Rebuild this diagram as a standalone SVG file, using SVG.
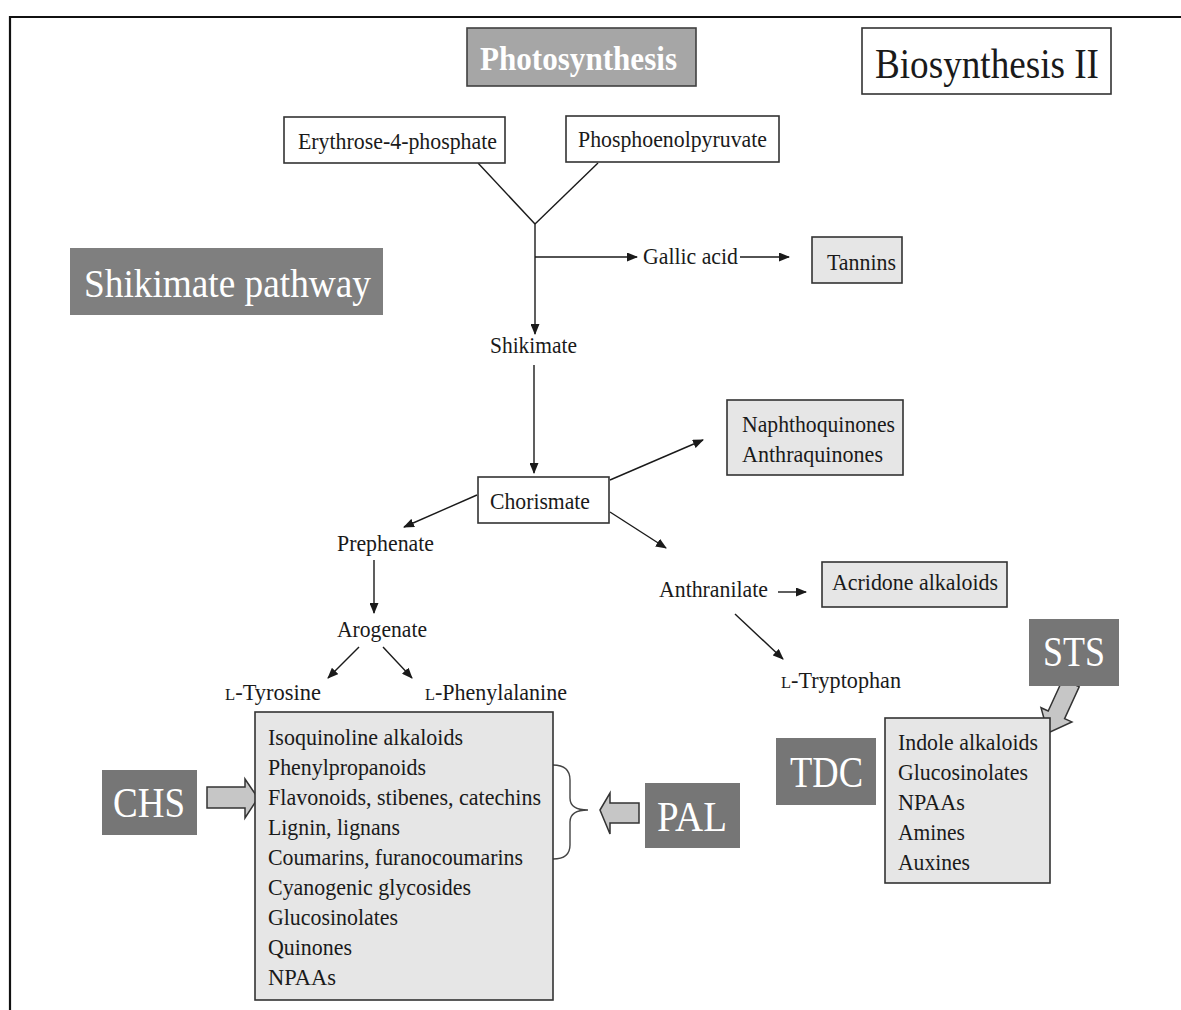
<svg xmlns="http://www.w3.org/2000/svg" width="1181" height="1010" viewBox="0 0 1181 1010">
<defs>
<marker id="ah" markerUnits="userSpaceOnUse" markerWidth="11" markerHeight="9" refX="10" refY="4.5" orient="auto">
<path d="M0,0 L11,4.5 L0,9 z" fill="#1a1a1a"/>
</marker>
<style>
text{font-family:"Liberation Serif","Times New Roman",serif;fill:#1a1a1a;}
.t{font-size:23px;}
.w{fill:#ffffff;}
.box{fill:#ffffff;stroke:#333333;stroke-width:1.6;}
.prod{fill:#e6e6e6;stroke:#333333;stroke-width:1.6;}
.dark{fill:#767676;}
.conn{stroke:#1a1a1a;stroke-width:1.4;fill:none;}
.arr{stroke:#1a1a1a;stroke-width:1.4;fill:none;marker-end:url(#ah);}
.blk{fill:#c6c6c6;stroke:#333333;stroke-width:1.5;stroke-linejoin:miter;}
.sc{font-size:17px;}
</style>
</defs>
<rect width="1181" height="1010" fill="#ffffff"/>
<g id="frame">
<line x1="9" y1="17" x2="1181" y2="17" stroke="#111" stroke-width="2"/>
<line x1="10" y1="16" x2="10" y2="1010" stroke="#111" stroke-width="2.2"/>
</g>
<g id="connectors">
<line class="conn" x1="478" y1="163" x2="535" y2="224"/>
<line class="conn" x1="598" y1="163" x2="535" y2="224"/>
<line class="arr" x1="535" y1="224" x2="535" y2="334"/>
<line class="arr" x1="535" y1="257" x2="637" y2="257"/>
<line class="arr" x1="740" y1="257" x2="789" y2="257"/>
<line class="arr" x1="534" y1="365" x2="534" y2="473"/>
<line class="arr" x1="610" y1="480" x2="703" y2="440"/>
<line class="arr" x1="477" y1="495" x2="404" y2="527"/>
<line class="arr" x1="610" y1="512" x2="666" y2="548"/>
<line class="arr" x1="374" y1="560" x2="374" y2="613"/>
<line class="arr" x1="359" y1="647" x2="328" y2="678"/>
<line class="arr" x1="383" y1="647" x2="412" y2="678"/>
<line class="arr" x1="778" y1="592" x2="806" y2="592"/>
<line class="arr" x1="735" y1="614" x2="783" y2="659"/>
<path id="brace" d="M553,765 Q570,765 570,780 L570,798 Q570,810 588,810 Q570,810 570,822 L570,845 Q570,859 553,859" fill="none" stroke="#444" stroke-width="1.4"/>
<polygon id="chs-arrow" class="blk" points="207,787 245,787 245,779 258,798 245,818 245,808 207,808"/>
<polygon id="pal-arrow" class="blk" points="600,810 610,793 610,803 639,803 639,823 610,823 610,834"/>
<polygon id="sts-arrow" class="blk" points="1062.8,679.2 1079.2,686.8 1064.6,718.6 1071.9,721.9 1048,733 1041,707.7 1048.2,711"/>
</g>
<g id="photosynthesis">
<rect x="467" y="28" width="229" height="58" fill="#a6a6a6" stroke="#404040" stroke-width="1.6"/>
<text x="480" y="70" class="w" font-size="33" font-weight="bold" textLength="197" lengthAdjust="spacingAndGlyphs">Photosynthesis</text>
</g>
<g id="biosynthesis">
<rect x="862" y="28" width="249" height="66" class="box"/>
<text x="875" y="78" font-size="43" textLength="224" lengthAdjust="spacingAndGlyphs">Biosynthesis II</text>
</g>
<g id="shikimate-pathway">
<rect x="70" y="248" width="313" height="67" fill="#7f7f7f"/>
<text x="84" y="297" class="w" font-size="39" textLength="287" lengthAdjust="spacingAndGlyphs">Shikimate pathway</text>
</g>
<g id="erythrose">
<rect x="284" y="117" width="221" height="46" class="box"/>
<text x="298" y="149" class="t" textLength="199" lengthAdjust="spacingAndGlyphs">Erythrose-4-phosphate</text>
</g>
<g id="pep">
<rect x="566" y="116" width="213" height="46" class="box"/>
<text x="578" y="147" class="t" textLength="189" lengthAdjust="spacingAndGlyphs">Phosphoenolpyruvate</text>
</g>
<g id="gallic-acid">
<text x="643" y="264" class="t" textLength="95" lengthAdjust="spacingAndGlyphs">Gallic acid</text>
</g>
<g id="tannins">
<rect x="812" y="237" width="90" height="46" class="prod"/>
<text x="827" y="270" class="t" textLength="69" lengthAdjust="spacingAndGlyphs">Tannins</text>
</g>
<g id="shikimate">
<text x="490" y="353" class="t" textLength="87" lengthAdjust="spacingAndGlyphs">Shikimate</text>
</g>
<g id="chorismate">
<rect x="478" y="477" width="131" height="46" class="box"/>
<text x="490" y="509" class="t" textLength="100" lengthAdjust="spacingAndGlyphs">Chorismate</text>
</g>
<g id="quinones">
<rect x="727" y="400" width="176" height="75" class="prod"/>
<text x="742" y="432" class="t" textLength="153" lengthAdjust="spacingAndGlyphs">Naphthoquinones</text>
<text x="742" y="462" class="t" textLength="141" lengthAdjust="spacingAndGlyphs">Anthraquinones</text>
</g>
<g id="prephenate">
<text x="337" y="551" class="t" textLength="97" lengthAdjust="spacingAndGlyphs">Prephenate</text>
</g>
<g id="arogenate">
<text x="337" y="637" class="t" textLength="90" lengthAdjust="spacingAndGlyphs">Arogenate</text>
</g>
<g id="tyrosine">
<text x="225" y="700" class="t" textLength="96" lengthAdjust="spacingAndGlyphs"><tspan class="sc">L</tspan>-Tyrosine</text>
</g>
<g id="phenylalanine">
<text x="425" y="700" class="t" textLength="142" lengthAdjust="spacingAndGlyphs"><tspan class="sc">L</tspan>-Phenylalanine</text>
</g>
<g id="anthranilate">
<text x="659" y="597" class="t" textLength="109" lengthAdjust="spacingAndGlyphs">Anthranilate</text>
</g>
<g id="acridone">
<rect x="822" y="562" width="185" height="45" class="prod"/>
<text x="832" y="590" class="t" textLength="166" lengthAdjust="spacingAndGlyphs">Acridone alkaloids</text>
</g>
<g id="tryptophan">
<text x="781" y="688" class="t" textLength="120" lengthAdjust="spacingAndGlyphs"><tspan class="sc">L</tspan>-Tryptophan</text>
</g>
<g id="phe-products">
<rect x="255" y="712" width="298" height="288" class="prod"/>
<text x="268" y="745" class="t" textLength="195" lengthAdjust="spacingAndGlyphs">Isoquinoline alkaloids</text>
<text x="268" y="775" class="t" textLength="158" lengthAdjust="spacingAndGlyphs">Phenylpropanoids</text>
<text x="268" y="805" class="t" textLength="273" lengthAdjust="spacingAndGlyphs">Flavonoids, stibenes, catechins</text>
<text x="268" y="835" class="t" textLength="132" lengthAdjust="spacingAndGlyphs">Lignin, lignans</text>
<text x="268" y="865" class="t" textLength="255" lengthAdjust="spacingAndGlyphs">Coumarins, furanocoumarins</text>
<text x="268" y="895" class="t" textLength="203" lengthAdjust="spacingAndGlyphs">Cyanogenic glycosides</text>
<text x="268" y="925" class="t" textLength="130" lengthAdjust="spacingAndGlyphs">Glucosinolates</text>
<text x="268" y="955" class="t" textLength="84" lengthAdjust="spacingAndGlyphs">Quinones</text>
<text x="268" y="985" class="t" textLength="68" lengthAdjust="spacingAndGlyphs">NPAAs</text>
</g>
<g id="trp-products">
<rect x="885" y="718" width="165" height="165" class="prod"/>
<text x="898" y="750" class="t" textLength="140" lengthAdjust="spacingAndGlyphs">Indole alkaloids</text>
<text x="898" y="780" class="t" textLength="130" lengthAdjust="spacingAndGlyphs">Glucosinolates</text>
<text x="898" y="810" class="t" textLength="67" lengthAdjust="spacingAndGlyphs">NPAAs</text>
<text x="898" y="840" class="t" textLength="67" lengthAdjust="spacingAndGlyphs">Amines</text>
<text x="898" y="870" class="t" textLength="72" lengthAdjust="spacingAndGlyphs">Auxines</text>
</g>
<g id="chs">
<rect x="102" y="770" width="95" height="65" class="dark"/>
<text x="113" y="817" class="w" font-size="42" textLength="72" lengthAdjust="spacingAndGlyphs">CHS</text>
</g>
<g id="pal">
<rect x="645" y="783" width="95" height="65" class="dark"/>
<text x="657" y="831" class="w" font-size="42" textLength="70" lengthAdjust="spacingAndGlyphs">PAL</text>
</g>
<g id="tdc">
<rect x="776" y="738" width="100" height="67" class="dark"/>
<text x="790" y="787" class="w" font-size="44" textLength="73" lengthAdjust="spacingAndGlyphs">TDC</text>
</g>
<g id="sts">
<rect x="1029" y="619" width="90" height="67" class="dark"/>
<text x="1043" y="666" class="w" font-size="43" textLength="62" lengthAdjust="spacingAndGlyphs">STS</text>
</g>
</svg>
